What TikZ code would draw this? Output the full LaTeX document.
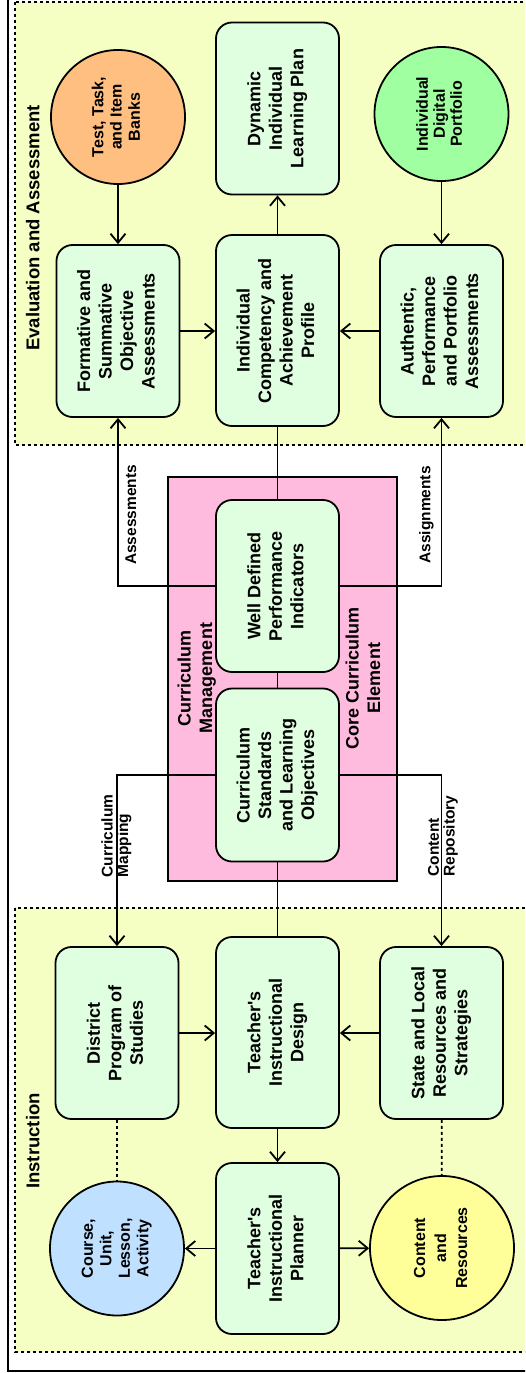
\documentclass[tikz,border=0pt]{standalone}
\usepackage{fontspec}
\setmainfont{Liberation Sans}
\usetikzlibrary{arrows.meta}
\definecolor{regfill}{HTML}{F5FFC3}
\definecolor{boxfill}{HTML}{E0FFE0}
\definecolor{pinkfill}{HTML}{FFBBDD}
\definecolor{orangefill}{HTML}{FFBF80}
\definecolor{greenfill}{HTML}{A0FFA0}
\definecolor{bluefill}{HTML}{C0E0FF}
\definecolor{yellowfill}{HTML}{FFFF99}
\newcommand{\rtc}[3]{\rotatebox{90}{\fontsize{#1}{#2}\selectfont\bfseries\begin{tabular}{@{}c@{}}#3\end{tabular}}}
\newcommand{\rtl}[3]{\rotatebox{90}{\fontsize{#1}{#2}\selectfont\bfseries\begin{tabular}{@{}l@{}}#3\end{tabular}}}
\newcommand{\sq}{\textquotesingle}
\tikzset{
  lw/.style={line width=1.8pt},
  region/.style={line width=1.6pt, fill=regfill, dash pattern=on 3pt off 3pt},
  box/.style={lw, draw, fill=boxfill, rounded corners=16pt, inner sep=0pt, minimum width=123pt, minimum height=172pt},
  circ/.style={lw, draw, circle, inner sep=0pt, minimum size=134pt},
  arr/.style={lw, -{Straight Barb[length=9pt,width=15pt,line width=1.8pt]}},
  conn/.style={lw},
  dotconn/.style={lw, dash pattern=on 3pt off 3pt},
  lbl/.style={inner sep=0pt}
}
\begin{document}
\begin{tikzpicture}[x=1pt,y=-1pt]
\clip (0,0) rectangle (525,1373);
\fill[white] (0,0) rectangle (525,1373);
% frame
\draw[lw] (8,-5) -- (8,1371) -- (535,1371);
% regions
\draw[region] (15,2) rectangle (540,445);
\draw[region] (15,908) rectangle (540,1352);
\node[lbl] (evallbl) at (35,228) {\rtc{18.5}{21.5}{Evaluation and Assessment}};
\node[lbl] (instlbl) at (35,1141) {\rtc{18.5}{21.5}{Instruction}};
% pink core area
\draw[lw, fill=pinkfill] (168,477) rectangle (397,881);
\node[lbl] (cmlbl) at (197,678) {\rtc{18}{21.5}{Curriculum\\Management}};
\node[lbl] (cclbl) at (365,678) {\rtc{18}{21.5}{Core Curriculum\\Element}};

% evaluation nodes
\node[circ, fill=orangefill] (test) at (118,117) {\rtc{16}{18.3}{Test, Task,\\and Item\\Banks}};
\node[circ, fill=greenfill] (portf) at (441.5,114) {\rtc{16}{17}{Individual\\Digital\\Portfolio}};
\node[box] (dyn) at (277.5,108.5) {\rtc{18}{21.5}{Dynamic\\Individual\\Learning Plan}};
\node[box] (fsa) at (118,331) {\rtc{18}{21.5}{Formative and\\Summative\\Objective\\Assessments}};
\node[box, minimum height=191pt] (comp) at (277.5,330.5) {\rtc{18}{21.5}{Individual\\Competency and\\Achievement\\Profile}};
\node[box] (apa) at (441.5,331) {\rtc{18}{21.5}{Authentic,\\Performance\\and Portfolio\\Assessments}};

% core nodes
\node[box] (wdpi) at (277.5,586) {\rtc{18}{21.5}{Well Defined\\Performance\\Indicators}};
\node[box, minimum height=173pt] (csl) at (277.5,775) {\rtc{18}{21.5}{Curriculum\\Standards\\and Learning\\Objectives}};

% instruction nodes
\node[box] (dps) at (117,1033) {\rtc{18}{21.5}{District\\Program of\\Studies}};
\node[box, minimum height=191pt] (tid) at (277.5,1032.5) {\rtc{18}{21.5}{Teacher\sq s\\Instructional\\Design}};
\node[box] (slr) at (441.5,1033) {\rtc{18}{21.5}{State and Local\\Resources and\\Strategies}};
\node[box, minimum height=171pt] (tip) at (277.5,1248.5) {\rtc{18}{21.5}{Teacher\sq s\\Instructional\\Planner}};
\node[circ, fill=bluefill] (course) at (117,1248.5) {\rtc{16}{18.5}{Course,\\Unit,\\Lesson,\\Activity}};
\node[circ, fill=yellowfill, minimum size=144pt] (content) at (442,1248) {\rtc{16}{21}{Content\\and\\Resources}};

% connectors: evaluation
\draw[arr] (test) -- (fsa);
\draw[arr] (portf) -- (apa);
\draw[arr] (comp) -- (dyn);
\draw[arr] (fsa.east) -- (fsa.east -| comp.west);
\draw[arr] (apa.west) -- (apa.west -| comp.east);
% core
\draw[conn] (comp.south) -- (wdpi.north);
\draw[conn] (wdpi.south) -- (csl.north);
\draw[conn] (csl.south) -- (tid.north);
\draw[arr] (wdpi.west) -| (fsa.south);
\draw[arr] (wdpi.east) -| (apa.south);
\draw[arr] (csl.west) -| (dps.north);
\draw[arr] (csl.east) -| (slr.north);
\node[lbl] (assesslbl) at (133,515) {\rtc{15.5}{15}{Assessments}};
\node[lbl] (assignlbl) at (427,515) {\rtc{15.5}{15}{Assignments}};
\node[lbl] (maplbl) at (117,836) {\rtl{15.5}{15}{Curriculum\\Mapping}};
\node[lbl] (replbl) at (443.5,836) {\rtl{15.5}{15}{Content\\Repository}};
% instruction
\draw[arr] (dps.east) -- (dps.east -| tid.west);
\draw[arr] (slr.west) -- (slr.west -| tid.east);
\draw[arr] (tid) -- (tip);
\draw[arr] (tip) -- (course);
\draw[arr] (tip) -- (content);
\draw[dotconn] (dps) -- (course);
\draw[dotconn] (slr) -- (content);
\end{tikzpicture}
\end{document}
